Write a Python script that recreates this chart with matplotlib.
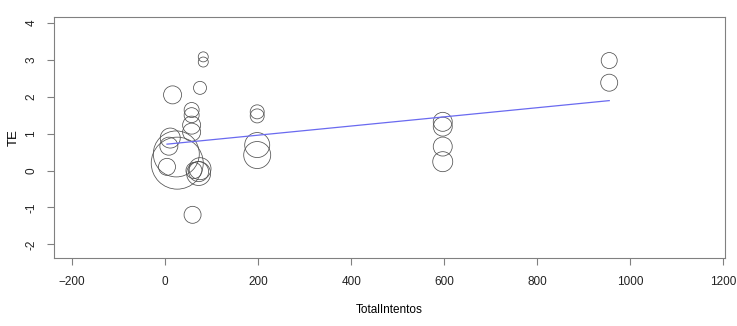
import numpy as np
import matplotlib.pyplot as plt

plt.rcParams['font.family'] = ['Liberation Sans', 'DejaVu Sans']

# study data
total_intentos = [82, 82, 75, 16, 57, 57, 57, 57, 59, 24, 26, 11, 8, 4,
                  72, 75, 72, 62, 198, 198, 198, 198, 597, 597, 597, 597, 955, 955]
te = [3.08, 2.94, 2.24, 2.05, 1.64, 1.50, 1.23, 1.04, -1.20, 0.45, 0.20, 0.88, 0.66, 0.10,
      -0.03, 0.05, -0.08, 0.00, 1.59, 1.48, 0.69, 0.42, 1.32, 1.19, 0.65, 0.24, 2.98, 2.38]
# relative weights (bubble radius)
weight = [5, 5, 6.5, 9, 7.5, 7.5, 9, 9, 8.5, 23, 26, 10, 9, 8.5,
          10, 11, 12, 8, 7, 7, 12.5, 13.5, 9.5, 9.5, 9.5, 10, 8, 8.5]

# fitted meta-regression line
b0 = 0.71
b1 = 0.00124

fig = plt.figure(figsize=(7.37, 3.26), dpi=100)
ax = fig.add_axes([54/737, 1-258/326, (725-54)/737, (258-17)/326])

r_pt = np.array(weight) * 72 / 100
ax.scatter(total_intentos, te, s=(2*r_pt)**2, facecolors='none',
           edgecolors='#505050', linewidths=0.55, zorder=2)

xs = np.array([min(total_intentos), max(total_intentos)])
ax.plot(xs, b0 + b1*xs, color='#6a6af0', lw=0.9, zorder=3)

ax.set_xlim(-239, 1204)
ax.set_ylim(-2.37, 4.16)
ax.set_xticks(range(-200, 1201, 200))
ax.set_yticks(range(-2, 5))
ax.set_yticklabels([str(v) for v in range(-2, 5)], rotation=90, va='center')

for s in ax.spines.values():
    s.set_color('#808080')
    s.set_linewidth(0.8)
ax.tick_params(direction='out', length=5, width=0.8, color='#808080',
               labelsize=8.5, labelcolor='#222222')
ax.tick_params(axis='x', pad=8)
ax.tick_params(axis='y', pad=7)
ax.set_xlabel('TotalIntentos', fontsize=8.5)
ax.set_ylabel('TE', fontsize=9.5)
ax.xaxis.set_label_coords(0.5, (258-304)/241)
ax.yaxis.set_label_coords((20-54)/671, 0.5)

fig.savefig('out.png', dpi=100)
